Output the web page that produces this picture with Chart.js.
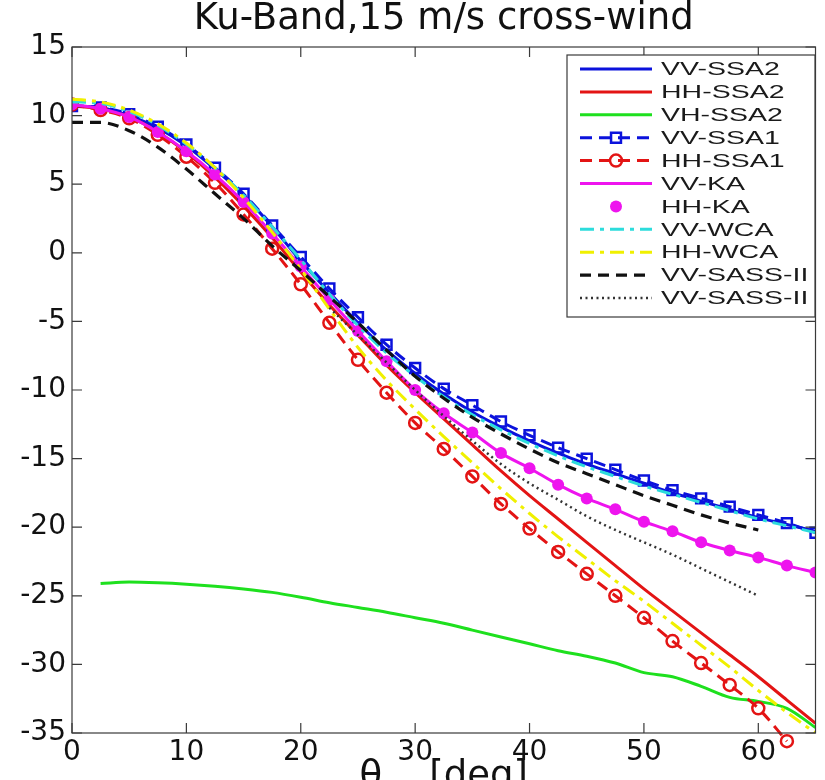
<!DOCTYPE html>
<html><head><meta charset="utf-8">
<script src="https://cdn.jsdelivr.net/npm/chart.js@4.4.0/dist/chart.umd.min.js"></script>
<style>
html,body{margin:0;padding:0;background:#fff;overflow:hidden;width:825px;height:780px}
#wrap{width:825px;height:800px;position:relative}
canvas{display:block}
</style></head><body>
<div id="wrap"><canvas id="c" width="825" height="800"></canvas></div>
<script>
const titleText = 'Ku-Band,15 m/s cross-wind';
const xTitle = 'θ    [deg]';
const xTicks = [0,10,20,30,40,50,60];
const yTicks = [-35,-30,-25,-20,-15,-10,-5,0,5,10,15];
const angles = [0,2.5,5,7.5,10,12.5,15,17.5,20,22.5,25,27.5,30,32.5,35,37.5,40,42.5,45,47.5,50,52.5,55,57.5,60,62.5,65];

const vvSSA2 = [10.7,10.6,10.0,9.1,7.8,6.1,4.2,1.9,-0.6,-2.9,-5.1,-7.1,-8.8,-10.3,-11.6,-12.7,-13.7,-14.6,-15.4,-16.1,-16.8,-17.5,-18.1,-18.7,-19.3,-19.8,-20.3];
const hhSSA2 = [10.7,10.5,9.9,8.8,7.3,5.5,3.4,1.1,-1.4,-3.8,-6.0,-8.2,-10.2,-12.1,-14.0,-15.9,-17.7,-19.4,-21.1,-22.8,-24.5,-26.1,-27.7,-29.3,-30.9,-32.6,-34.3];
const vhSSA2 = [null,-24.1,-24.0,-24.05,-24.15,-24.3,-24.5,-24.75,-25.1,-25.5,-25.85,-26.2,-26.6,-27.0,-27.5,-28.0,-28.5,-29.0,-29.4,-29.9,-30.6,-30.9,-31.6,-32.4,-32.7,-33.2,-34.6];
const vvSSA1 = [10.7,10.6,10.1,9.2,7.9,6.2,4.3,2.0,-0.3,-2.6,-4.7,-6.7,-8.4,-9.9,-11.1,-12.3,-13.3,-14.2,-15.0,-15.8,-16.6,-17.3,-17.9,-18.5,-19.1,-19.7,-20.4];
const hhSSA1 = [10.8,10.4,9.8,8.6,7.0,5.1,2.8,0.3,-2.3,-5.1,-7.8,-10.2,-12.4,-14.3,-16.3,-18.3,-20.1,-21.8,-23.4,-25.0,-26.6,-28.3,-29.9,-31.5,-33.2,-35.6,null];
const vvKA = [10.8,10.5,9.9,8.8,7.4,5.7,3.7,1.4,-1.0,-3.4,-5.7,-7.9,-10.0,-11.7,-13.1,-14.6,-15.7,-16.9,-17.9,-18.7,-19.6,-20.3,-21.1,-21.7,-22.2,-22.8,-23.3];
const hhKA = [10.8,10.5,9.9,8.8,7.4,5.7,3.7,1.4,-1.0,-3.4,-5.7,-7.9,-10.0,-11.7,-13.1,-14.6,-15.7,-16.9,-17.9,-18.7,-19.6,-20.3,-21.1,-21.7,-22.2,-22.8,-23.3];
const vvWCA = [11.0,10.9,10.3,9.3,7.9,6.2,4.2,1.9,-0.5,-3.0,-5.3,-7.3,-9.0,-10.5,-11.8,-12.9,-13.9,-14.8,-15.6,-16.3,-17.0,-17.6,-18.2,-18.8,-19.4,-19.9,-20.4];
const hhWCA = [11.2,11.0,10.4,9.4,8.0,6.2,4.0,1.5,-1.2,-4.1,-6.9,-9.3,-11.4,-13.4,-15.3,-17.2,-19.0,-20.7,-22.3,-23.9,-25.4,-27.0,-28.6,-30.2,-31.9,-33.5,-35.0];
const vvSASSdash = [9.5,9.5,8.9,7.7,6.1,4.3,2.5,0.5,-1.3,-3.2,-5.1,-7.1,-9.0,-10.6,-12.0,-13.2,-14.3,-15.3,-16.1,-16.9,-17.7,-18.4,-19.1,-19.7,-20.2,null,null];
const vvSASSdot = [null,null,null,null,null,null,null,null,null,-4.0,-6.0,-8.0,-10.0,-11.9,-13.7,-15.4,-16.8,-18.0,-19.2,-20.2,-21.1,-22.0,-23.0,-24.0,-25.0,null,null];

const pts = arr => angles.map((a,i)=>({x:a,y:arr[i]}));

const BLUE='#0b12dc', RED='#e31414', GREEN='#1ee01e', MAG='#ee14ee', CYAN='#2ddcdc', YEL='#f0f000', BLK='#111111', GRY='#333333';

const datasets = [
  {label:'VV-SSA2', data:pts(vvSSA2), borderColor:BLUE, borderWidth:3, pointRadius:0},
  {label:'HH-SSA2', data:pts(hhSSA2), borderColor:RED, borderWidth:3, pointRadius:0},
  {label:'VH-SSA2', data:pts(vhSSA2), borderColor:GREEN, borderWidth:3, pointRadius:0},
  {label:'VV-SSA1', data:pts(vvSSA1), borderColor:BLUE, borderWidth:3, borderDash:[12,7], pointStyle:'rect', pointRadius:7, pointBorderWidth:2.5, pointBorderColor:BLUE, pointBackgroundColor:'rgba(0,0,0,0)'},
  {label:'HH-SSA1', data:pts(hhSSA1), borderColor:RED, borderWidth:3, borderDash:[12,7], pointStyle:'circle', pointRadius:6, pointBorderWidth:2.5, pointBorderColor:RED, pointBackgroundColor:'rgba(0,0,0,0)', clip:{left:0,top:0,right:0,bottom:20}},
  {label:'VV-KA', data:pts(vvKA), borderColor:MAG, borderWidth:3, pointRadius:0},
  {label:'HH-KA', data:pts(hhKA), borderColor:MAG, showLine:false, pointStyle:'circle', pointRadius:6, pointBorderWidth:0, pointBackgroundColor:MAG, pointBorderColor:MAG},
  {label:'VV-WCA', data:pts(vvWCA), borderColor:CYAN, borderWidth:3, borderDash:[14,6,4,6], pointRadius:0},
  {label:'HH-WCA', data:pts(hhWCA), borderColor:YEL, borderWidth:3, borderDash:[14,6,4,6], pointRadius:0},
  {label:'VV-SASS-II', data:pts(vvSASSdash), borderColor:BLK, borderWidth:3.2, borderDash:[11,7], pointRadius:0},
  {label:'VV-SASS-II', data:pts(vvSASSdot), borderColor:GRY, borderWidth:2.5, borderDash:[2,3.5], pointRadius:0}
];
datasets.forEach((d,i)=>{ d.order = -i; d.fill=false; d.cubicInterpolationMode='monotone'; d.spanGaps=false; });

const framePlugin = {
  id:'frame',
  afterDatasetsDraw(chart){
    const {ctx, chartArea:a, scales:{x,y}} = chart;
    ctx.save();
    ctx.strokeStyle='#3a3a3a'; ctx.lineWidth=1.2; ctx.setLineDash([]);
    ctx.strokeRect(a.left, a.top, a.right-a.left, a.bottom-a.top);
    const tl=10;
    ctx.beginPath();
    x.ticks.forEach(t=>{ const px=x.getPixelForValue(t.value);
      ctx.moveTo(px,a.bottom); ctx.lineTo(px,a.bottom-tl);
      ctx.moveTo(px,a.top); ctx.lineTo(px,a.top+tl); });
    y.ticks.forEach(t=>{ const py=y.getPixelForValue(t.value);
      ctx.moveTo(a.left,py); ctx.lineTo(a.left+tl,py);
      ctx.moveTo(a.right,py); ctx.lineTo(a.right-tl,py); });
    ctx.stroke();
    ctx.restore();
  }
};

const legendPlugin = {
  id:'matlabLegend',
  afterDraw(chart){
    const ctx = chart.ctx;
    const bx=567, by=55, bw=248, bh=262, rowH=22.9, firstY=69;
    ctx.save();
    ctx.fillStyle='#fff'; ctx.fillRect(bx,by,bw,bh);
    ctx.strokeStyle='#3a3a3a'; ctx.lineWidth=1.2; ctx.setLineDash([]);
    ctx.strokeRect(bx,by,bw,bh);
    chart.data.datasets.forEach((ds,i)=>{
      const yy = firstY + i*rowH;
      if (ds.showLine !== false) {
        ctx.save();
        ctx.strokeStyle=ds.borderColor; ctx.lineWidth=ds.borderWidth;
        ctx.setLineDash(ds.borderDash||[]);
        ctx.beginPath(); ctx.moveTo(580,yy); ctx.lineTo(652,yy); ctx.stroke();
        ctx.restore();
      }
      if (ds.pointRadius>0) {
        ctx.save();
        ctx.setLineDash([]);
        ctx.strokeStyle=ds.pointBorderColor; ctx.fillStyle=ds.pointBackgroundColor;
        ctx.lineWidth=ds.pointBorderWidth||0;
        Chart.helpers.drawPoint(ctx,{pointStyle:ds.pointStyle, radius:ds.pointRadius, rotation:0, borderWidth:ds.pointBorderWidth||0},616,yy);
        ctx.restore();
      }
      ctx.save();
      ctx.translate(661,yy);
      ctx.scale(1.5,1);
      ctx.fillStyle='#1a1a1a';
      ctx.font='19px "Liberation Sans", Arial, sans-serif';
      ctx.textBaseline='middle'; ctx.textAlign='left';
      ctx.fillText(ds.label,0,1);
      ctx.restore();
    });
    ctx.restore();
  }
};

Chart.defaults.font.family = '"DejaVu Sans", sans-serif';
Chart.defaults.color = '#1a1a1a';

new Chart(document.getElementById('c'), {
  type:'line',
  data:{datasets},
  options:{
    responsive:false, animation:false, devicePixelRatio:1,
    layout:{padding:{left:0,right:0,top:0,bottom:0}},
    plugins:{
      legend:{display:false}, tooltip:{enabled:false},
      title:{display:true, fullSize:false, text:titleText, font:{size:37, weight:'normal', lineHeight:1}, color:'#111', padding:{top:1,bottom:9}}
    },
    scales:{
      x:{type:'linear', min:0, max:65,
        afterBuildTicks:s=>{ s.ticks = xTicks.map(v=>({value:v})); },
        afterFit:s=>{ s.height = 67; },
        grid:{display:false, drawTicks:false}, border:{display:false},
        ticks:{font:{size:28}, padding:3, color:'#111', maxRotation:0, autoSkip:false},
        title:{display:true, text:xTitle, font:{size:37, lineHeight:1.2}, padding:0, color:'#111'}
      },
      y:{type:'linear', min:-35, max:15,
        afterBuildTicks:s=>{ s.ticks = yTicks.map(v=>({value:v})); },
        afterFit:s=>{ s.width = 72; },
        grid:{display:false, drawTicks:false}, border:{display:false},
        ticks:{font:{size:28}, padding:6, color:'#111', autoSkip:false}
      }
    }
  },
  plugins:[framePlugin, legendPlugin]
});
</script>
</body></html>
